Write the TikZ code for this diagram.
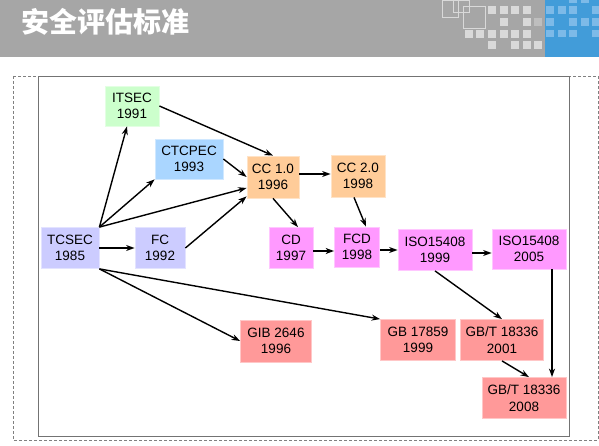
\documentclass[tikz,border=0pt]{standalone}
\usepackage{fontspec}
\setmainfont{Liberation Sans}
\newfontfamily\cjk{Noto Sans CJK SC}
\usetikzlibrary{arrows.meta,calc}
\definecolor{hdrgray}{RGB}{166,166,166}
\definecolor{sqlight}{RGB}{217,217,217}
\definecolor{sqdark}{RGB}{190,190,190}
\definecolor{hdrblue}{RGB}{66,156,217}
\definecolor{sqblue}{RGB}{125,186,232}
\definecolor{cgreen}{RGB}{204,255,204}
\definecolor{cblue}{RGB}{170,214,255}
\definecolor{corange}{RGB}{255,204,153}
\definecolor{clav}{RGB}{204,204,255}
\definecolor{cmag}{RGB}{255,153,255}
\definecolor{cred}{RGB}{255,153,153}
\begin{document}
\begin{tikzpicture}[x=1pt,y=-1pt,
  box/.style={inner sep=0pt,align=center,line width=0.8pt,
    font=\fontsize{13.5}{16.5}\selectfont},
  bx/.style n args={3}{box,fill=#1,draw=#1!55!white,minimum width=#2,minimum height=#3},
  arr/.style={line width=1.4pt,-{Stealth[length=8.5pt,width=6pt]}},
  sq/.style={fill=sqlight,draw=none},
  sqb/.style={fill=sqblue,draw=none}]
\useasboundingbox (0,0) rectangle (599,446);
% header
\fill[hdrgray] (0,0) rectangle (599,57);
\fill[hdrblue] (545,0) rectangle (599,57);
\node[anchor=west,text=white,inner sep=0pt,font=\cjk\bfseries\fontsize{28}{30}\selectfont] (title) at (21,22) {安全评估标准};
% outlined squares
\draw[sqlight,line width=0.6pt] (442,0) rectangle (458,17);
\draw[sqlight,line width=0.6pt] (453,0) rectangle (469,12);
\draw[sqlight,line width=0.6pt] (463,6) rectangle (485,28);
% light squares
\foreach \x in {488,500,511,523} \fill[sq] (\x,6) rectangle +(8,8);
\foreach \x in {500,523} \fill[sq] (\x,18) rectangle +(8,8);
\fill[sqdark] (534,18) rectangle +(8,8);
\foreach \x in {465,476,488,500,511,523} \fill[sq] (\x,30) rectangle +(8,8);
\foreach \x in {488,511,523,534} \fill[sq] (\x,41) rectangle +(8,8);
% blue squares
\foreach \x in {569,581} \fill[sqb] (\x,0) rectangle +(8,3);
\foreach \x in {546,558,569,592} \fill[sqb] (\x,6) rectangle +(8,8);
\foreach \x in {546,569,581,592} \fill[sqb] (\x,18) rectangle +(8,8);
\foreach \x in {546,558,569,592} \fill[sqb] (\x,30) rectangle +(8,7);
% frames
\draw[gray,densely dashed,line width=0.5pt] (13,76) rectangle (598,440);
\draw[gray!90!black,line width=0.8pt] (38,76) rectangle (569,436);
% nodes
\node[bx={cgreen}{54pt}{40pt}] (itsec) at (132,106) {ITSEC\\1991};
\node[bx={cblue}{68pt}{40pt}] (ctcpec) at (189,159) {CTCPEC\\1993};
\node[bx={corange}{52pt}{42pt}] (ccone) at (273,177) {CC 1.0\\1996};
\node[bx={corange}{54pt}{42pt}] (cctwo) at (358,176) {CC 2.0\\1998};
\node[bx={clav}{58pt}{41pt}] (tcsec) at (70,248) {TCSEC\\1985};
\node[bx={clav}{50pt}{41pt}] (fc) at (160,248) {FC\\1992};
\node[bx={cmag}{44pt}{41pt}] (cd) at (291,248) {CD\\1997};
\node[bx={cmag}{45pt}{40pt}] (fcd) at (357,247) {FCD\\1998};
\node[bx={cmag}{74pt}{41pt}] (isoa) at (435,250) {ISO15408\\1999};
\node[bx={cmag}{74pt}{40pt}] (isob) at (529,249) {ISO15408\\2005};
\node[bx={cred}{71pt}{42pt}] (gib) at (276,341) {GIB 2646\\1996};
\node[bx={cred}{75pt}{41pt}] (gbs) at (418,340) {GB 17859\\1999};
\node[bx={cred}{83pt}{41pt}] (gbta) at (502,340) {GB/T 18336\\2001};
\node[bx={cred}{84pt}{41pt}] (gbtb) at (524,398) {GB/T 18336\\2008};
% edges
\draw[arr] (tcsec.north east) -- ([xshift=-5pt]itsec.south);
\draw[arr] (tcsec.north east) -- (ctcpec.south west);
\draw[arr] (tcsec.north east) -- ([yshift=-11pt]ccone.west);
\draw[arr] (tcsec.east) -- (fc.west);
\draw[arr] (fc.east) -- ([yshift=2pt]ccone.south west);
\draw[arr] (itsec.east) -- (ccone.north);
\draw[arr] (ctcpec.east) -- (ccone.west);
\draw[arr] (ccone.south) -- ([xshift=7pt]cd.north);
\draw[arr] ([yshift=3pt]ccone.east) -- ([yshift=3pt]ccone.east -| cctwo.west);
\draw[arr] ([xshift=-4pt]cctwo.south) -- ([xshift=9pt]fcd.north);
\draw[arr] ([yshift=-3pt]cd.east) -- ([yshift=-3pt]cd.east -| fcd.west);
\draw[arr] ([yshift=-3pt]fcd.east) -- ([yshift=-3pt]fcd.east -| isoa.west);
\draw[arr] ([yshift=-3pt]isoa.east) -- ([yshift=-3pt]isoa.east -| isob.west);
\draw[arr] (isoa.south) -- (gbta.north);
\draw[arr] ([xshift=23pt]isob.south) -- ([xshift=23pt]isob.south |- gbtb.north);
\draw[arr] (gbta.south) -- ([xshift=5pt]gbtb.north);
\draw[arr] (tcsec.south east) -- (gib.west);
\draw[arr] (tcsec.south east) -- (gbs.north west);
\end{tikzpicture}
\end{document}
